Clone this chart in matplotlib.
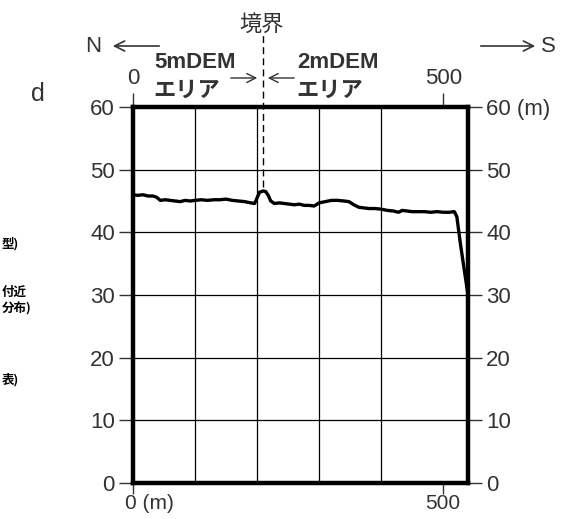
import matplotlib
matplotlib.use("Agg")
import matplotlib.pyplot as plt
from matplotlib.transforms import ScaledTranslation

# profile along the line, N (0 m) to S
distance = [0, 8, 16, 24, 32, 38, 44, 52, 60, 68, 76, 84, 92, 100, 110, 120, 130, 140,
            150, 160, 170, 180, 190, 196, 200, 204, 210, 214, 218, 222, 228, 236, 244,
            252, 260, 268, 276, 284, 292, 300, 310, 320, 330, 340, 348, 356, 364, 372,
            380, 390, 400, 410, 420, 428, 434, 442, 450, 460, 470, 480, 490, 500, 510,
            518, 522, 528, 534, 540]
elevation = [46.0, 45.9, 46.0, 45.8, 45.8, 45.6, 45.1, 45.2, 45.1, 45.0, 44.9, 45.1,
             45.0, 45.1, 45.2, 45.1, 45.2, 45.2, 45.3, 45.1, 45.0, 44.9, 44.7, 44.6,
             45.5, 46.4, 46.6, 46.5, 45.9, 45.0, 44.6, 44.7, 44.6, 44.5, 44.4, 44.5,
             44.3, 44.3, 44.2, 44.7, 44.9, 45.1, 45.1, 45.0, 44.9, 44.4, 44.0, 43.9,
             43.8, 43.8, 43.7, 43.5, 43.4, 43.2, 43.5, 43.4, 43.3, 43.3, 43.3, 43.2,
             43.3, 43.2, 43.2, 43.3, 42.5, 38.0, 34.0, 30.0]

boundary_x = 209
y_ticks = [0, 10, 20, 30, 40, 50, 60]
right_labels = ["0", "10", "20", "30", "40", "50", "60 (m)"]
x_ticks = [0, 500]
bottom_labels = ["0 (m)", "500"]
top_labels = ["0", "500"]

num_font = ["Liberation Sans", "Noto Sans CJK JP"]
jp_font = ["Noto Sans CJK JP", "Liberation Sans"]
grey = "#333333"
tick_size = 16

W, H = 562, 519
fig = plt.figure(figsize=(W / 100, H / 100), dpi=100)
ax = fig.add_axes([133 / W, 1 - 483 / H, (468 - 133) / W, (483 - 107) / H])


def px(x, y):
    return x / W, 1 - y / H


ax.set_xlim(0, 540)
ax.set_ylim(0, 60)
ax.set_xticks(range(0, 541, 100), minor=True)
ax.grid(True, which="minor", axis="x", color="black", lw=0.9)
ax.grid(True, which="major", axis="y", color="black", lw=0.9)
ax.set_axisbelow(True)

ax.plot(distance, elevation, color="black", lw=2.4, zorder=3)

for s in ax.spines.values():
    s.set_linewidth(3.2)

ticks = dict(direction="out", length=10, width=1, color=grey, labelsize=tick_size,
             labelcolor=grey, pad=3)
ax.set_xticks(x_ticks)
ax.set_xticklabels(bottom_labels, fontfamily=num_font)
ax.set_yticks(y_ticks)
ax.set_yticklabels([str(v) for v in y_ticks], fontfamily=num_font)
ax.tick_params(which="major", **ticks)
ax.tick_params(axis="x", which="major", length=8, pad=0, labelsize=15)
ax.tick_params(which="minor", length=0)

# "0 (m)": keep the zero under its tick, unit hanging to the right
first = ax.xaxis.get_major_ticks()[0].label1
first.set_horizontalalignment("left")
first.set_transform(first.get_transform()
                    + ScaledTranslation(-5.5 / 72, 0, fig.dpi_scale_trans))

top = ax.secondary_xaxis("top")
top.set_xticks(x_ticks)
top.set_xticklabels(top_labels, fontfamily=num_font)
top.tick_params(**ticks)

right = ax.secondary_yaxis("right")
right.set_yticks(y_ticks)
right.set_yticklabels(right_labels, fontfamily=num_font)
right.tick_params(**ticks)

# boundary between the two DEM areas
ax.plot([boundary_x, boundary_x], [47.3, 71.5], color="black", lw=1,
        ls=(0, (5, 3)), clip_on=False, zorder=4)
fig.text(*px(262, 24), "境界", fontfamily=jp_font, fontsize=16, color=grey,
         ha="center", va="center")

fig.text(*px(195, 63), "5mDEM", fontfamily=num_font, fontsize=16, fontweight="bold",
         color=grey, ha="center", va="center")
fig.text(*px(187, 90), "エリア", fontfamily=jp_font, fontsize=16, fontweight="bold",
         color=grey, ha="center", va="center")
fig.text(*px(338, 63), "2mDEM", fontfamily=num_font, fontsize=16, fontweight="bold",
         color=grey, ha="center", va="center")
fig.text(*px(330, 90), "エリア", fontfamily=jp_font, fontsize=16, fontweight="bold",
         color=grey, ha="center", va="center")

arrow = dict(arrowstyle="->", color=grey, lw=1, mutation_scale=16)
ax.annotate("", xy=px(260, 78), xytext=px(228, 78), xycoords="figure fraction",
            arrowprops=arrow)
ax.annotate("", xy=px(265, 78), xytext=px(297, 78), xycoords="figure fraction",
            arrowprops=arrow)

# direction arrows
fig.text(*px(93, 47), "N", fontfamily=num_font, fontsize=16, color=grey,
         ha="center", va="center")
ax.annotate("", xy=px(110, 46), xytext=px(162, 46), xycoords="figure fraction",
            arrowprops=dict(arrowstyle="->", color=grey, lw=1.2, mutation_scale=18))
fig.text(*px(548, 47), "S", fontfamily=num_font, fontsize=16, color=grey,
         ha="center", va="center")
ax.annotate("", xy=px(538, 46), xytext=px(478, 46), xycoords="figure fraction",
            arrowprops=dict(arrowstyle="->", color=grey, lw=1.2, mutation_scale=18))

fig.text(*px(38, 94), "d", fontfamily=num_font, fontsize=18, color=grey,
         ha="center", va="center")

# fragments of the neighbouring panel's legend
frag = dict(fontfamily=jp_font, fontsize=9, fontweight="bold", ha="left", va="center")
fig.text(*px(2, 244), "型)", **frag)
fig.text(*px(2, 292), "付近", **frag)
fig.text(*px(2, 309), "分布)", **frag)
fig.text(*px(2, 380), "表)", **frag)

fig.savefig("out.png", dpi=100)
